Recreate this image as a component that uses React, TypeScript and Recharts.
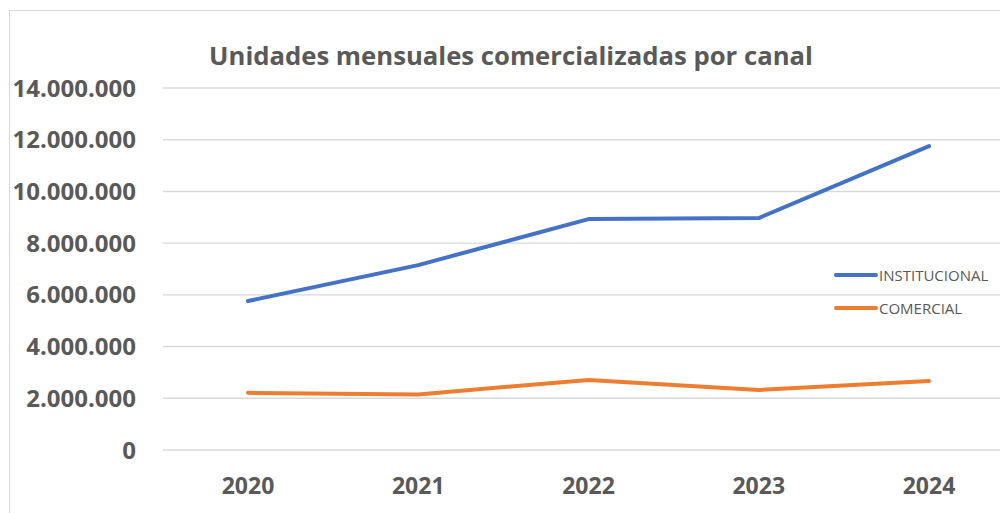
import { LineChart, Line, XAxis, YAxis, CartesianGrid, Legend } from "recharts";

const years = ["2020", "2021", "2022", "2023", "2024"];
const institucional = [5760000, 7150000, 8930000, 8970000, 11750000];
const comercial = [2210000, 2150000, 2710000, 2320000, 2670000];
const yTicks = [0, 2000000, 4000000, 6000000, 8000000, 10000000, 12000000, 14000000];
const seriesOrder = ["INSTITUCIONAL", "COMERCIAL"];

const data = years.map((year, i) => ({
  year,
  INSTITUCIONAL: institucional[i],
  COMERCIAL: comercial[i],
}));

const FONT = "'Open Sans', sans-serif";
const GRAY = "#595959";

const formatThousands = (v: number) =>
  String(v).replace(/\B(?=(\d{3})+(?!\d))/g, ".");

function LegendBox({ payload }: any) {
  const items = [...(payload || [])].sort(
    (a: any, b: any) => seriesOrder.indexOf(a.value) - seriesOrder.indexOf(b.value)
  );
  return (
    <div style={{ fontFamily: FONT, fontSize: 15, color: GRAY }}>
      {items.map((item: any) => (
        <div
          key={item.value}
          style={{ display: "flex", alignItems: "center", height: 33 }}
        >
          <svg width={44} height={8} style={{ marginRight: 1 }}>
            <line
              x1={2}
              y1={4}
              x2={42}
              y2={4}
              stroke={item.color}
              strokeWidth={4}
              strokeLinecap="round"
            />
          </svg>
          <span>{item.value}</span>
        </div>
      ))}
    </div>
  );
}

export default function App() {
  return (
    <div
      style={{
        position: "fixed",
        left: 0,
        top: 0,
        width: 1000,
        height: 513,
        overflow: "hidden",
        background: "#fff",
      }}
    >
      <div
        style={{
          position: "absolute",
          left: 9,
          top: 10,
          width: 1100,
          height: 700,
          border: "1.5px solid #d9d9d9",
        }}
      />
      <svg
        width={1000}
        height={90}
        style={{ position: "absolute", left: 0, top: 0 }}
      >
        <text
          x={511}
          y={65}
          textAnchor="middle"
          fontFamily={FONT}
          fontWeight={700}
          fontSize={25.7}
          fill={GRAY}
        >
          Unidades mensuales comercializadas por canal
        </text>
      </svg>
      <div style={{ position: "absolute", left: 0, top: 0 }}>
        <LineChart
          width={1014}
          height={505}
          data={data}
          margin={{ top: 88, right: 0, bottom: 15, left: 0 }}
        >
          <CartesianGrid
            vertical={false}
            stroke="#d9d9d9"
            strokeWidth={1.4}
          />
          <XAxis
            dataKey="year"
            axisLine={false}
            tickLine={false}
            tickSize={0}
            tickMargin={28}
            height={40}
            padding={{ left: 85, right: 85 }}
            tick={{ fontFamily: FONT, fontWeight: 700, fontSize: 23, fill: GRAY }}
          />
          <YAxis
            width={163}
            domain={[0, 14000000]}
            ticks={yTicks}
            interval={0}
            axisLine={false}
            tickLine={false}
            tickSize={0}
            tickMargin={27}
            tickFormatter={formatThousands}
            tick={{ fontFamily: FONT, fontWeight: 700, fontSize: 24, fill: GRAY }}
          />
          <Legend
            layout="vertical"
            align="center"
            verticalAlign="middle"
            wrapperStyle={{ left: 834, top: 258, width: 170 }}
            content={<LegendBox />}
          />
          <Line
            type="linear"
            dataKey="INSTITUCIONAL"
            stroke="#4472C4"
            strokeWidth={4}
            strokeLinecap="round"
            strokeLinejoin="round"
            dot={false}
            isAnimationActive={false}
          />
          <Line
            type="linear"
            dataKey="COMERCIAL"
            stroke="#ED7D31"
            strokeWidth={4}
            strokeLinecap="round"
            strokeLinejoin="round"
            dot={false}
            isAnimationActive={false}
          />
        </LineChart>
      </div>
    </div>
  );
}
